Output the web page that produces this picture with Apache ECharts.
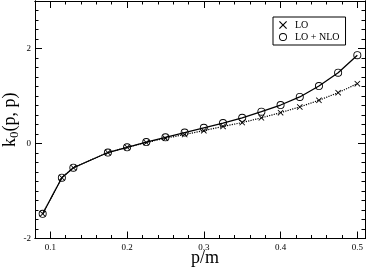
<!DOCTYPE html>
<html>
<head>
<meta charset="utf-8">
<script src="https://cdn.jsdelivr.net/npm/echarts@6/dist/echarts.min.js"></script>
<style>html,body{margin:0;padding:0;background:#fff}#c{width:376px;height:269px}</style>
</head>
<body>
<div id="c"></div>
<script>
var pm = [0.09, 0.115, 0.13, 0.175, 0.2, 0.225, 0.25, 0.275, 0.3, 0.325, 0.35, 0.375, 0.4, 0.425, 0.45, 0.475, 0.5];
var lo = [-1.48, -0.72, -0.51, -0.19, -0.08, 0.02, 0.11, 0.19, 0.27, 0.36, 0.44, 0.54, 0.65, 0.77, 0.91, 1.07, 1.26];
var loNlo = [-1.48, -0.72, -0.51, -0.19, -0.08, 0.03, 0.13, 0.23, 0.33, 0.43, 0.54, 0.67, 0.81, 0.98, 1.21, 1.49, 1.86];
var xMajor = [0.1, 0.2, 0.3, 0.4, 0.5];
var yMajor = [-2, 0, 2];

var xMinor = [];
for (var i = 0; i <= 21; i++) { var v = +(0.08 + i * 0.02).toFixed(2); if (Math.abs(v * 10 - Math.round(v * 10)) > 1e-6) xMinor.push(v); }
var yMinor = [];
for (var j = 0; j <= 25; j++) { var w = +(-2 + j * 0.2).toFixed(1); if (Math.abs(w / 2 - Math.round(w / 2)) > 1e-6) yMinor.push(w); }

var crossPath = 'path://M0,1L1,0L5,4L9,0L10,1L6,5L10,9L9,10L5,6L1,10L0,9L4,5Z';
var ringPath = 'path://M5,0A5,5,0,1,1,4.99,0ZM5,1.1A3.9,3.9,0,1,0,5.01,1.1Z';
var serif = 'Liberation Serif';
var lineStyle = { color: '#000', width: 1 };

function xAx(pos, ticks, len, labels) {
  return {
    type: 'value', min: 0.08, max: 0.51, position: pos,
    splitLine: { show: false },
    axisLine: { show: true, onZero: false, lineStyle: lineStyle },
    axisTick: { show: true, inside: true, length: len, customValues: ticks, lineStyle: lineStyle },
    axisLabel: labels ? { show: true, customValues: xMajor, formatter: function (v) { return v.toFixed(1); }, fontFamily: serif, fontSize: 9, color: '#000', margin: 5 } : { show: false },
    name: labels ? 'p/m' : '', nameLocation: 'middle', nameGap: 11, nameMoveOverlap: false,
    nameTextStyle: { fontFamily: serif, fontSize: 18, color: '#000', padding: [0, 0, 0, 10] }
  };
}
function yAx(pos, ticks, len, labels) {
  return {
    type: 'value', min: -2, max: 3, position: pos,
    splitLine: { show: false },
    axisLine: { show: true, onZero: false, lineStyle: lineStyle },
    axisTick: { show: true, inside: true, length: len, customValues: ticks, lineStyle: lineStyle },
    axisLabel: labels ? { show: true, customValues: yMajor, fontFamily: serif, fontSize: 9, color: '#000', margin: 4 } : { show: false },
    name: labels ? 'k{sub|0}(p, p)' : '', nameLocation: 'middle', nameGap: 14, nameMoveOverlap: false,
    nameTextStyle: { fontFamily: serif, fontSize: 18, color: '#000',
      rich: { sub: { fontFamily: serif, fontSize: 13, color: '#000', padding: [8, 0, 0, 0] } } }
  };
}

var chart = echarts.init(document.getElementById('c'), null, { renderer: 'canvas' });
chart.setOption({
  animation: false,
  grid: { left: 35, right: 11, top: 1, bottom: 30.5, outerBoundsMode: 'none', containLabel: false },
  xAxis: [xAx('bottom', xMajor, 7, true), xAx('bottom', xMinor, 3.5, false), xAx('top', xMajor, 7, false), xAx('top', xMinor, 3.5, false)],
  yAxis: [yAx('left', yMajor, 7, true), yAx('left', yMinor, 3.5, false), yAx('right', yMajor, 7, false), yAx('right', yMinor, 3.5, false)],
  legend: {
    orient: 'vertical', left: 273, top: 17,
    borderColor: '#000', borderWidth: 1, padding: [3, 6, 3, 6],
    itemWidth: 8, itemHeight: 8, itemGap: 2,
    textStyle: { fontFamily: serif, fontSize: 10, color: '#000', padding: [0, 0, 0, 3] },
    data: [
      { name: 'LO', icon: crossPath, itemStyle: { color: '#000', borderWidth: 0 } },
      { name: 'LO + NLO', icon: ringPath, itemStyle: { color: '#000', borderWidth: 0 } }
    ]
  },
  series: [
    {
      name: 'LO', type: 'line', xAxisIndex: 0, yAxisIndex: 0,
      data: pm.map(function (x, k) { return [x, lo[k]]; }),
      symbol: crossPath, symbolSize: 6,
      itemStyle: { color: '#000', borderWidth: 0 },
      lineStyle: { color: '#000', width: 1.2, type: 'dotted' }
    },
    {
      name: 'LO + NLO', type: 'line', xAxisIndex: 0, yAxisIndex: 0,
      data: pm.map(function (x, k) { return [x, loNlo[k]]; }),
      symbol: ringPath, symbolSize: 8,
      itemStyle: { color: '#000', borderWidth: 0 },
      lineStyle: { color: '#000', width: 1.3 }
    }
  ]
});
</script>
</body>
</html>
